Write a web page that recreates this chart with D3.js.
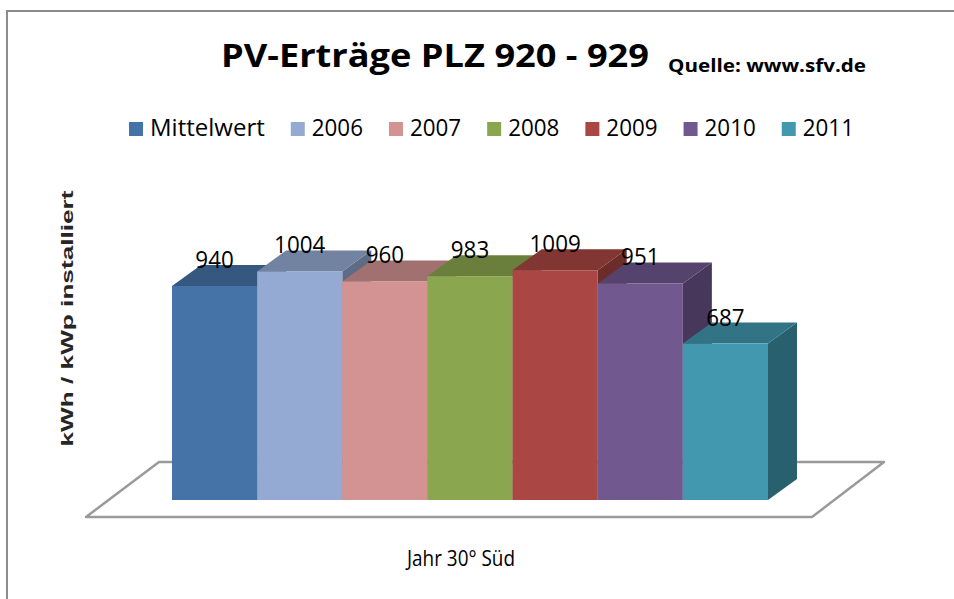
<!DOCTYPE html>
<html>
<head>
<meta charset="utf-8">
<script src="https://cdn.jsdelivr.net/npm/d3@7"></script>
<style>
  body { margin: 0; background: #fff; }
  svg { display: block; }
</style>
</head>
<body>
<div id="chart"></div>
<script>
// Chart data
const categories = ["Mittelwert", "2006", "2007", "2008", "2009", "2010", "2011"];
const values = [940, 1004, 960, 983, 1009, 951, 687];
const colors = ["#4572A7", "#95AAD2", "#D39392", "#8AA64F", "#AA4643", "#71588F", "#4198AF"];

const titleText = "PV-Erträge PLZ 920 - 929";
const sourceText = "Quelle: www.sfv.de";
const yTitle = "kWh / kWp installiert";
const xTitle = "Jahr 30° Süd";

// Layout
const width = 954, height = 599;
const baseY = 500;       // bottom of bar fronts
const depthX = 29, depthY = -21;  // 3D offset
const font = "'Open Sans', sans-serif";
const digitW = 12.8;     // Calibri-ish digit width, used to narrow the digits

const svg = d3.select("#chart")
    .append("svg")
    .attr("width", width)
    .attr("height", height);

// outer frame (runs off the right and bottom edges)
svg.append("rect")
    .attr("x", 7).attr("y", 11)
    .attr("width", 980).attr("height", 640)
    .attr("fill", "#fff")
    .attr("stroke", "#8c8c8c")
    .attr("stroke-width", 2);

const x = d3.scaleBand()
    .domain(categories)
    .range([172, 768])
    .padding(0);

const y = d3.scaleLinear()
    .domain([0, 1000])
    .range([baseY, baseY - 227.7]);

const color = d3.scaleOrdinal().domain(categories).range(colors);

// floor
const floorPts = [[159, 462], [884, 462], [812, 517], [86, 517]];
svg.append("polygon")
    .attr("points", floorPts.map(p => p.join(",")).join(" "))
    .attr("fill", "#fff")
    .attr("stroke", "#9a9a9a")
    .attr("stroke-width", 2.5)
    .attr("stroke-linejoin", "round");

const bars = categories.map((c, i) => ({cat: c, val: values[i]}));

const g = svg.append("g").attr("class", "bars");

const bar = g.selectAll("g")
    .data(bars)
    .join("g");

// side face
bar.append("polygon")
    .attr("points", d => {
        const x1 = x(d.cat) + x.bandwidth();
        const yt = y(d.val);
        return [[x1, yt], [x1 + depthX, yt + depthY], [x1 + depthX, baseY + depthY], [x1, baseY]]
            .map(p => p.join(",")).join(" ");
    })
    .attr("fill", d => d3.color(color(d.cat)).darker(1.3));

// top face
bar.append("polygon")
    .attr("points", d => {
        const x0 = x(d.cat), x1 = x0 + x.bandwidth();
        const yt = y(d.val);
        return [[x0, yt], [x1, yt], [x1 + depthX, yt + depthY], [x0 + depthX, yt + depthY]]
            .map(p => p.join(",")).join(" ");
    })
    .attr("fill", d => d3.color(color(d.cat)).darker(0.75));

// front face
bar.append("rect")
    .attr("x", d => x(d.cat))
    .attr("y", d => y(d.val))
    .attr("width", x.bandwidth())
    .attr("height", d => baseY - y(d.val))
    .attr("fill", d => color(d.cat));

// value labels
svg.append("g")
    .selectAll("text")
    .data(bars)
    .join("text")
    .attr("x", d => x(d.cat) + x.bandwidth() / 2)
    .attr("y", d => y(d.val) + depthY + 3)
    .attr("text-anchor", "middle")
    .attr("font-family", font)
    .attr("font-size", "24px")
    .attr("fill", "#000")
    .attr("textLength", d => String(d.val).length * digitW)
    .attr("lengthAdjust", "spacingAndGlyphs")
    .text(d => d.val);

// title
svg.append("text")
    .attr("x", 221).attr("y", 67)
    .attr("font-family", font)
    .attr("font-weight", 700)
    .attr("font-size", "33px")
    .attr("textLength", 428)
    .attr("lengthAdjust", "spacingAndGlyphs")
    .text(titleText);

svg.append("text")
    .attr("x", 668).attr("y", 72)
    .attr("font-family", font)
    .attr("font-weight", 700)
    .attr("font-size", "18px")
    .attr("textLength", 198)
    .attr("lengthAdjust", "spacingAndGlyphs")
    .text(sourceText);

// legend
const legend = svg.append("g").attr("class", "legend");
let lx = 0;
categories.forEach((c, i) => {
    const item = legend.append("g").attr("transform", `translate(${lx},0)`);
    item.append("rect")
        .attr("x", 0).attr("y", 122)
        .attr("width", 14).attr("height", 14)
        .attr("fill", color(c));
    const t = item.append("text")
        .attr("x", 21).attr("y", 136)
        .attr("font-family", font)
        .attr("font-size", "24px")
        .attr("fill", "#000")
        .text(c);
    if (/^\d+$/.test(c)) {
        t.attr("textLength", c.length * digitW).attr("lengthAdjust", "spacingAndGlyphs");
    }
    const w = /^\d+$/.test(c) ? c.length * digitW : t.node().getComputedTextLength();
    lx += 21 + w + 26;
});
const legendW = lx - 26;
legend.attr("transform", `translate(${491.5 - legendW / 2},0)`);

// axis titles
svg.append("text")
    .attr("transform", "translate(73,318.5) rotate(-90)")
    .attr("text-anchor", "middle")
    .attr("font-family", "'Liberation Sans', Arial, sans-serif")
    .attr("font-weight", 700)
    .attr("font-size", "16px")
    .attr("fill", "#262626")
    .attr("textLength", 256)
    .attr("lengthAdjust", "spacingAndGlyphs")
    .text(yTitle);

svg.append("text")
    .attr("x", 461).attr("y", 566)
    .attr("text-anchor", "middle")
    .attr("font-family", font)
    .attr("font-size", "21px")
    .attr("fill", "#000")
    .attr("textLength", 108)
    .attr("lengthAdjust", "spacingAndGlyphs")
    .text(xTitle);
</script>
</body>
</html>
